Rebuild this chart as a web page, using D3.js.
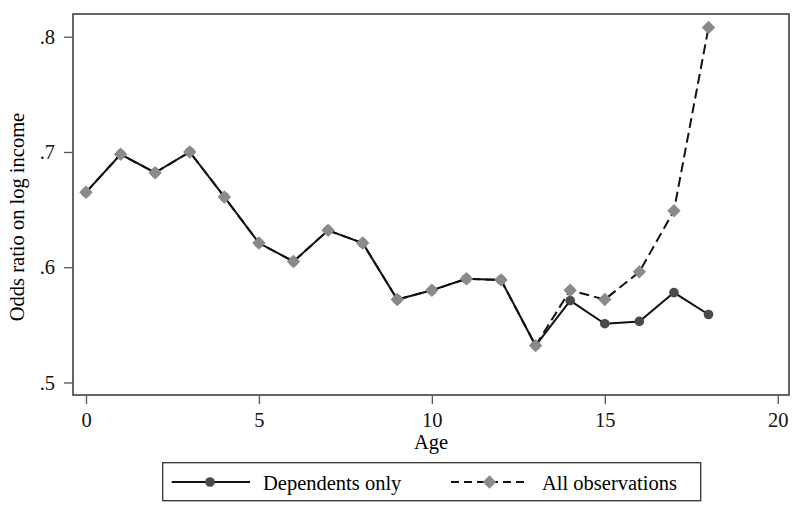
<html>
<head>
<meta charset="utf-8">
<style>
  body { margin: 0; background: #fff; }
  svg { display: block; font-family: "Liberation Serif", "Times New Roman", serif; }
  .tick text { fill: #111; }
</style>
</head>
<body>
<script src="https://d3js.org/d3.v7.min.js"></script>
<script>
// data
var ages = [0,1,2,3,4,5,6,7,8,9,10,11,12,13,14,15,16,17,18];
var dependentsOnly = [.665,.698,.682,.700,.661,.621,.605,.632,.621,.572,.580,.590,.589,.532,.571,.551,.553,.578,.559];
var allObservations = [.665,.698,.682,.700,.661,.621,.605,.632,.621,.572,.580,.590,.589,.532,.580,.572,.596,.649,.808];
var xTicks = [0,5,10,15,20];
var yTicks = [.5,.6,.7,.8];
var yTickLabels = [".5",".6",".7",".8"];
var legendLabels = ["Dependents only","All observations"];

var W = 800, H = 509;
var box = {left: 73, right: 789, top: 14, bottom: 395};
var fs = 20.5;

var svg = d3.select("body").append("svg").attr("width", W).attr("height", H);

var x = d3.scaleLinear().domain([0, 20]).range([86, 777.7]);
var y = d3.scaleLinear().domain([.5, .8]).range([382.5, 36.7]);

// plot frame
svg.append("rect")
   .attr("x", box.left).attr("y", box.top)
   .attr("width", box.right - box.left).attr("height", box.bottom - box.top)
   .attr("fill", "none").attr("stroke", "#333").attr("stroke-width", 1.5);

// axes
var xAxis = svg.append("g")
   .attr("transform", "translate(0," + box.bottom + ")")
   .call(d3.axisBottom(x).tickValues(xTicks).tickSize(9).tickPadding(8));
var yAxis = svg.append("g")
   .attr("transform", "translate(" + box.left + ",0)")
   .call(d3.axisLeft(y).tickValues(yTicks).tickSize(9).tickPadding(9)
         .tickFormat(function(d, i) { return yTickLabels[i]; }));
[xAxis, yAxis].forEach(function(a) {
  a.select(".domain").remove();
  a.selectAll("line").attr("stroke", "#555").attr("stroke-width", 1.3);
  a.selectAll("text").attr("font-size", fs).attr("font-family", "Liberation Serif");
});

// axis titles
svg.append("text")
   .attr("x", 431).attr("y", 449)
   .attr("text-anchor", "middle").attr("font-size", fs)
   .text("Age");
svg.append("text")
   .attr("transform", "translate(24," + 217 + ")rotate(-90)")
   .attr("text-anchor", "middle").attr("font-size", fs)
   .text("Odds ratio on log income");

var dep = ages.map(function(a, i) { return {a: a, v: dependentsOnly[i]}; });
var all = ages.map(function(a, i) { return {a: a, v: allObservations[i]}; });

var line = d3.line()
    .x(function(d) { return x(d.a); })
    .y(function(d) { return y(d.v); });

var diamond = d3.symbol().type(d3.symbolSquare).size(90);

// dependents only: solid line, dark dots
svg.append("path").datum(dep)
   .attr("d", line).attr("fill", "none")
   .attr("stroke", "#111").attr("stroke-width", 2);
svg.selectAll(".dot").data(dep).enter().append("circle")
   .attr("class", "dot")
   .attr("cx", function(d) { return x(d.a); })
   .attr("cy", function(d) { return y(d.v); })
   .attr("r", 4.8).attr("fill", "#4a4a4a");

// all observations: dashed line, gray diamonds
svg.append("path").datum(all)
   .attr("d", line).attr("fill", "none")
   .attr("stroke", "#111").attr("stroke-width", 2)
   .attr("stroke-dasharray", "10,5");
svg.selectAll(".dia").data(all).enter().append("path")
   .attr("class", "dia")
   .attr("d", diamond)
   .attr("transform", function(d) { return "translate(" + x(d.a) + "," + y(d.v) + ")rotate(45)"; })
   .attr("fill", "#8a8a8a");

// legend
var lg = svg.append("g");
lg.append("rect")
  .attr("x", 162.7).attr("y", 462.7).attr("width", 538).attr("height", 38)
  .attr("fill", "#fff").attr("stroke", "#333").attr("stroke-width", 1.3);
var ly = 482;
lg.append("line").attr("x1", 171.7).attr("x2", 250).attr("y1", ly).attr("y2", ly)
  .attr("stroke", "#111").attr("stroke-width", 2);
lg.append("circle").attr("cx", 210).attr("cy", ly).attr("r", 4.8).attr("fill", "#4a4a4a");
lg.append("text").attr("x", 263).attr("y", 489.5).attr("font-size", fs).text(legendLabels[0]);

lg.append("line").attr("x1", 451).attr("x2", 528).attr("y1", ly).attr("y2", ly)
  .attr("stroke", "#111").attr("stroke-width", 2).attr("stroke-dasharray", "8,5");
lg.append("path").attr("d", diamond)
  .attr("transform", "translate(489.5," + ly + ")rotate(45)").attr("fill", "#8a8a8a");
lg.append("text").attr("x", 542).attr("y", 489.5).attr("font-size", fs).text(legendLabels[1]);
</script>
</body>
</html>
